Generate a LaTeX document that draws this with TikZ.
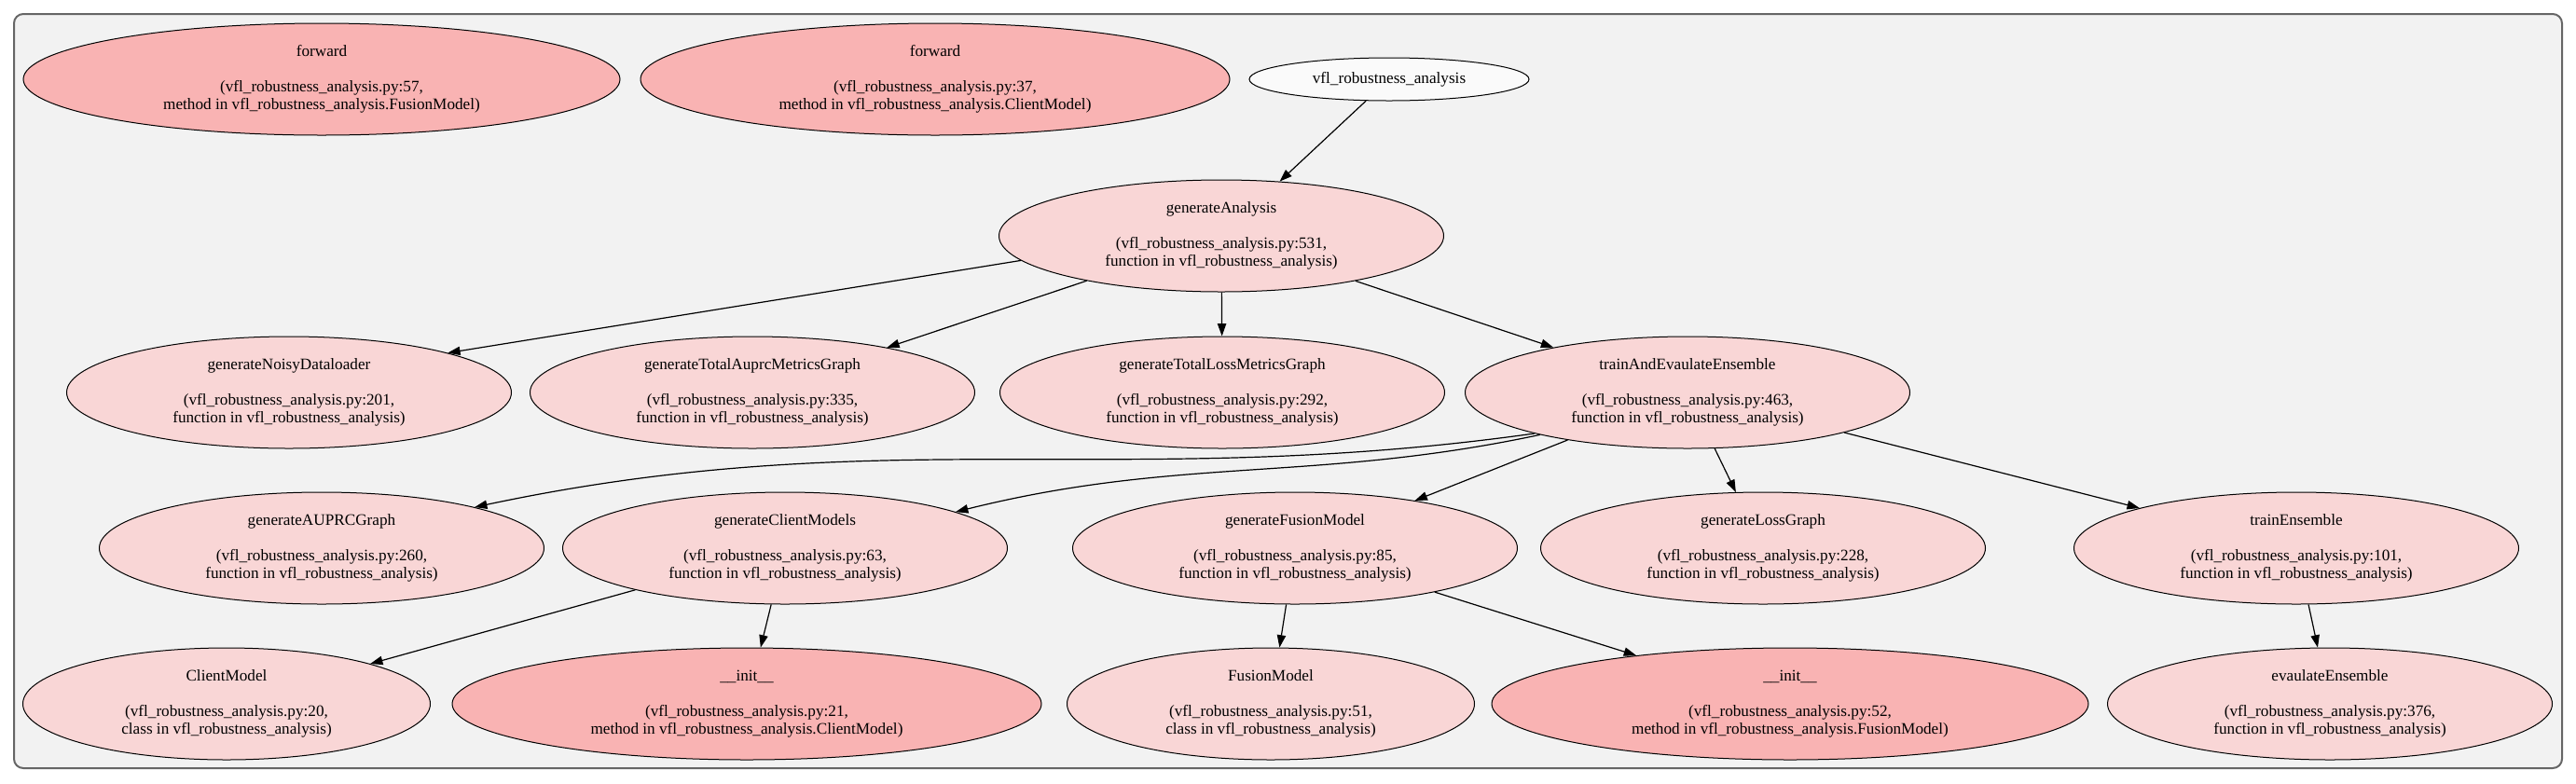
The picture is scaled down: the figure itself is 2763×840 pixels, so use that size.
\documentclass[tikz,border=0pt]{standalone}
\usepackage{fontspec}
\setmainfont{Liberation Serif}
\usetikzlibrary{shapes.geometric, arrows.meta}
\definecolor{clusterbg}{HTML}{F2F2F2}
\definecolor{clusterline}{HTML}{666666}
\definecolor{funcfill}{HTML}{F9D6D6}
\definecolor{methfill}{HTML}{F9B3B3}
\definecolor{modfill}{HTML}{FAFAFA}

\begin{document}
\begin{tikzpicture}[x=0.75pt, y=-0.75pt,
	every node/.style={font=\fontsize{12.9}{14.2}\selectfont, align=center},
	fn/.style={ellipse, draw, line width=0.75pt, fill=funcfill, inner xsep=0pt, inner ysep=-5pt, minimum height=90pt, minimum width=357.75pt},
	cls/.style={fn, minimum width=327.75pt},
	meth/.style={fn, fill=methfill, minimum width=480pt},
	call/.style={line width=0.9pt, -{Triangle[length=10pt, width=7pt]}}
	]
				\useasboundingbox (0,0) rectangle (2763,840);
				\draw[clusterline, fill=clusterbg, line width=1.5pt, rounded corners=7.5pt] (15,15) rectangle (2748,824);
				\node[meth] (fwdFusion) at (345,85) {forward\\[14.2pt](vfl\_robustness\_analysis.py:57,\\method in vfl\_robustness\_analysis.FusionModel)};
				\node[meth, minimum width=474pt] (fwdClient) at (1003,85) {forward\\[14.2pt](vfl\_robustness\_analysis.py:37,\\method in vfl\_robustness\_analysis.ClientModel)};
				\node[ellipse, draw, line width=0.75pt, fill=modfill, inner sep=0pt, minimum width=225pt, minimum height=34.5pt] (vflMod) at (1490,85) {vfl\_robustness\_analysis};
				\node[fn] (genAnalysis) at (1310,253) {generateAnalysis\\[14.2pt](vfl\_robustness\_analysis.py:531,\\function in vfl\_robustness\_analysis)};
				\node[fn] (genNoisy) at (310,421) {generateNoisyDataloader\\[14.2pt](vfl\_robustness\_analysis.py:201,\\function in vfl\_robustness\_analysis)};
				\node[fn] (genTotalAuprc) at (807,421) {generateTotalAuprcMetricsGraph\\[14.2pt](vfl\_robustness\_analysis.py:335,\\function in vfl\_robustness\_analysis)};
				\node[fn] (genTotalLoss) at (1311,421) {generateTotalLossMetricsGraph\\[14.2pt](vfl\_robustness\_analysis.py:292,\\function in vfl\_robustness\_analysis)};
				\node[fn] (trainEval) at (1810,421) {trainAndEvaulateEnsemble\\[14.2pt](vfl\_robustness\_analysis.py:463,\\function in vfl\_robustness\_analysis)};
				\node[fn] (genAuprc) at (345,588) {generateAUPRCGraph\\[14.2pt](vfl\_robustness\_analysis.py:260,\\function in vfl\_robustness\_analysis)};
				\node[fn] (genClients) at (842,588) {generateClientModels\\[14.2pt](vfl\_robustness\_analysis.py:63,\\function in vfl\_robustness\_analysis)};
				\node[fn] (genFusion) at (1389,588) {generateFusionModel\\[14.2pt](vfl\_robustness\_analysis.py:85,\\function in vfl\_robustness\_analysis)};
				\node[fn] (genLoss) at (1891,588) {generateLossGraph\\[14.2pt](vfl\_robustness\_analysis.py:228,\\function in vfl\_robustness\_analysis)};
				\node[fn] (trainEns) at (2463,588) {trainEnsemble\\[14.2pt](vfl\_robustness\_analysis.py:101,\\function in vfl\_robustness\_analysis)};
				\node[cls] (clientModel) at (243,755) {ClientModel\\[14.2pt](vfl\_robustness\_analysis.py:20,\\class in vfl\_robustness\_analysis)};
				\node[meth, minimum width=474pt] (initClient) at (801,755) {\_\_init\_\_\\[14.2pt](vfl\_robustness\_analysis.py:21,\\method in vfl\_robustness\_analysis.ClientModel)};
				\node[cls] (fusionModel) at (1363,755) {FusionModel\\[14.2pt](vfl\_robustness\_analysis.py:51,\\class in vfl\_robustness\_analysis)};
				\node[meth] (initFusion) at (1920,755) {\_\_init\_\_\\[14.2pt](vfl\_robustness\_analysis.py:52,\\method in vfl\_robustness\_analysis.FusionModel)};
				\node[fn] (evalEns) at (2499,755) {evaulateEnsemble\\[14.2pt](vfl\_robustness\_analysis.py:376,\\function in vfl\_robustness\_analysis)};
				\draw[call] (vflMod) -- (genAnalysis);
				\draw[call] (genAnalysis.187) -- (genNoisy.14);
				\draw[call] (genAnalysis) -- (genTotalAuprc);
				\draw[call] (genAnalysis) -- (genTotalLoss);
				\draw[call] (genAnalysis) -- (trainEval);
				\draw[call] (trainEval.195) to[out=188, in=12] (genAuprc.15);
				\draw[call] (trainEval.196) to[out=192, in=14] (genClients.12);
				\draw[call] (trainEval) -- (genFusion);
				\draw[call] (trainEval) -- (genLoss);
				\draw[call] (trainEval) -- (trainEns);
				\draw[call] (genClients) -- (clientModel);
				\draw[call] (genClients) -- (initClient);
				\draw[call] (genFusion) -- (fusionModel);
				\draw[call] (genFusion) -- (initFusion);
				\draw[call] (trainEns) -- (evalEns);
			\end{tikzpicture}
\end{document}
